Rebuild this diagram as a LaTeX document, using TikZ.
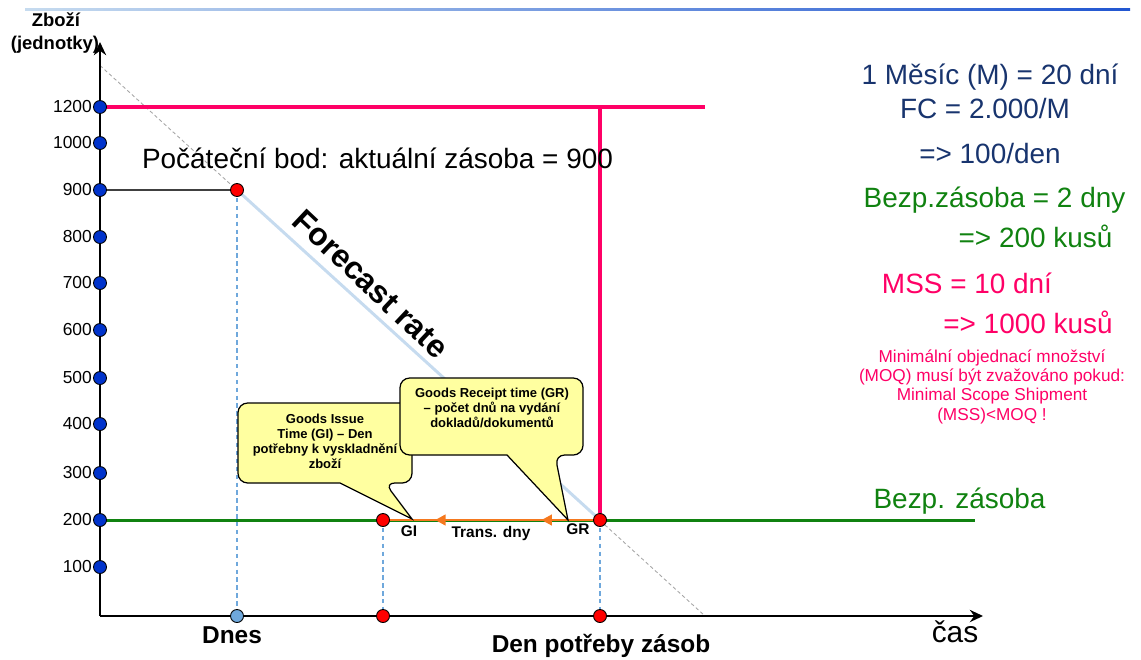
\documentclass[tikz,border=0pt]{standalone}
\usepackage{fontspec}
\setmainfont{Liberation Sans}
\usetikzlibrary{arrows.meta,decorations.markings}
\pgfdeclarelayer{bg}
\pgfsetlayers{bg,main}
\definecolor{navy}{RGB}{24,52,110}
\definecolor{pinkred}{RGB}{255,0,102}
\definecolor{okgreen}{RGB}{16,130,16}
\definecolor{dotblue}{RGB}{0,51,204}
\definecolor{dashblue}{RGB}{111,168,220}
\definecolor{fcblue}{RGB}{198,219,239}
\definecolor{calloutyel}{RGB}{255,255,160}
\definecolor{orng}{RGB}{245,120,30}
\newcommand{\fs}[2]{\fontsize{#1}{#2}\selectfont}

\begin{document}
\begin{tikzpicture}[x=.02cm, y=-.02cm,
  dot/.style={circle, draw=black, line width=.5pt, inner sep=0pt, minimum size=7.4pt},
  tickdot/.style={dot, fill=dotblue},
  reddot/.style={dot, fill=red},
  todaydot/.style={dot, fill=dashblue},
  ticklabel/.style={font=\fs{9.9}{11}, inner sep=.5pt},
  axis/.style={line width=1.1pt, -{Stealth[length=7.5pt, width=7pt, inset=2.5pt]}},
  guide/.style={dashblue, line width=.8pt, dash pattern=on 2.5pt off 2pt},
  callout/.style={fill=calloutyel, draw=black, line width=.7pt},
  callouttext/.style={font=\fs{7.4}{8.5}\bfseries, align=center, inner sep=0pt, anchor=north},
  bigtext/.style={font=\fs{15.9}{18}, inner sep=0pt, anchor=base},
  axistext/.style={font=\fs{13.9}{16}\bfseries, inner sep=0pt, anchor=base},
  smalllabel/.style={font=\fs{8.8}{10}\bfseries, inner sep=0pt}]

\useasboundingbox (0,0) rectangle (1141,659);
\shade[left color=fcblue, right color=dotblue!70!dashblue] (25,8) rectangle (1130,10.5);

\coordinate (O) at (100,616);
\coordinate (ytop) at (100,42);
\coordinate (xend) at (983,616);
\coordinate (fTop) at (100,65.5);
\coordinate (fBot) at (705,616);
\coordinate (mssEnd) at (705,107);
\coordinate (bzEnd) at (975,520);
\coordinate (giTip) at (412,519);
\coordinate (grTip) at (568,520);

\foreach \v/\y in {1200/107,1000/143,900/190,800/237,700/283,600/330,500/378,400/424,300/473,200/520,100/567}
  \node[tickdot, label={[ticklabel]left:\v}] (t\v) at (100,\y) {};

\node[reddot] (s) at (237,190) {};
\node[reddot] (gi) at (383,520) {};
\node[reddot] (gr) at (600,520) {};
\node[todaydot] (dnes) at (237,616) {};
\node[reddot] (xgi) at (383,616) {};
\node[reddot] (xgr) at (600,616) {};

\begin{pgfonlayer}{bg}
\draw[gray!70, line width=.5pt, dash pattern=on 2pt off 1.5pt] (fTop) -- (fBot);
\draw[fcblue, line width=1.7pt] (s.center) -- (gr.center);
\draw[guide] (s.center) -- (dnes.center);
\draw[guide] (gi.center) -- (xgi.center);
\draw[guide] (gr.center) -- (xgr.center);
\draw[black!75, line width=1.1pt] (t900.center) -- (s.center);
\draw[pinkred, line width=2pt] (t1200.center) -- (mssEnd);
\draw[pinkred, line width=2pt] (gr.center |- t1200.center) -- (gr.center);
\draw[okgreen, line width=1.7pt] (t200.center) -- (bzEnd);
\draw[orng, line width=1.6pt, postaction={decorate}, decoration={markings,
  mark=at position .27 with {\arrow{Triangle[length=6pt, width=6pt]}},
  mark=at position .76 with {\arrow{Triangle[length=6pt, width=6pt]}}}]
  (gr.center) -- (gi.center);
\draw[axis] (O) -- (ytop);
\draw[axis] (O) -- (xend);
\end{pgfonlayer}

\filldraw[callout] (340,483) [rounded corners=5.5pt] -- (238,483) -- (238,403) -- (412,403) -- (412,483) -- (385,483) [sharp corners] -- (giTip) -- cycle;
\filldraw[callout] (507,455) [rounded corners=5.5pt] -- (400,455) -- (400,378) -- (583,378) -- (583,455) -- (555,455) [sharp corners] -- (grTip) -- cycle;
\node[callouttext] (giText) at (325,414) {Goods Issue\\Time (GI) – Den\\potřebny k vyskladnění\\zboží};
\node[callouttext] (grText) at (492,388) {Goods Receipt time (GR)\\– počet dnů na vydání\\dokladů/dokumentů};

\node[smalllabel] (giLabel) at (409,531) {GI};
\node[smalllabel] (grLabel) at (578,529) {GR};
\node[smalllabel] (trans) at (491,533) {Trans. dny};

\node[font=\fs{10.5}{12}\bfseries, inner sep=0pt, anchor=base] (zbozi) at (56,26) {Zboží};
\node[font=\fs{10.5}{12}\bfseries, inner sep=0pt, anchor=base] (jedn) at (55,49) {(jednotky)};
\node[axistext] (dnesText) at (232,643) {Dnes};
\node[axistext] (denText) at (601,652) {Den potřeby zásob};
\node[font=\fs{17}{20}, inner sep=0pt, anchor=base] (cas) at (955,642) {čas};

\node[bigtext] (start) at (377.5,168) {Počáteční bod: aktuální zásoba = 900};
\node[font=\fs{18.1}{20}\bfseries, rotate=-43.3, inner sep=0pt] (fc) at (371,284) {Forecast rate};

\node[bigtext, text=navy] (mesic) at (990,84) {1 Měsíc (M) = 20 dní};
\node[bigtext, text=navy] (fcm) at (985,118) {FC = 2.000/M};
\node[bigtext, text=navy] (den) at (990,163) {=> 100/den};
\node[bigtext, text=okgreen] (bz) at (994.5,207) {Bezp.zásoba = 2 dny};
\node[bigtext, text=okgreen] (bzk) at (1035.5,247) {=> 200 kusů};
\node[bigtext, text=pinkred] (mss) at (967,293) {MSS = 10 dní};
\node[bigtext, text=pinkred] (mssk) at (1028,333) {=> 1000 kusů};
\node[font=\fs{9.8}{11}, text=pinkred, align=center, anchor=north, inner sep=0pt] (moq) at (992,349)
  {Minimální objednací množství\\(MOQ) musí být zvažováno pokud:\\Minimal Scope Shipment\\(MSS)<MOQ !};
\node[bigtext, text=okgreen] (bzLine) at (959.5,508) {Bezp. zásoba};
\end{tikzpicture}
\end{document}
